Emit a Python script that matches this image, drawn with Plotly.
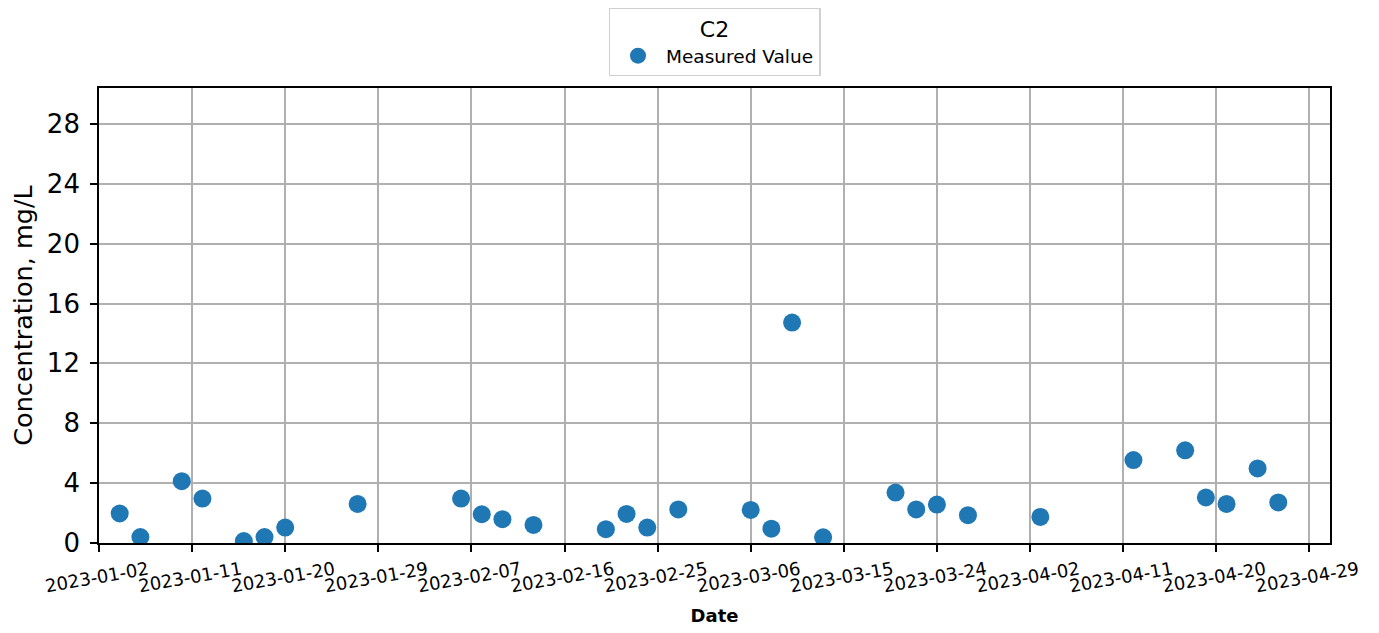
import plotly.graph_objects as go

dates = ["2023-01-04", "2023-01-06", "2023-01-10", "2023-01-12", "2023-01-16",
         "2023-01-18", "2023-01-20", "2023-01-27", "2023-02-06", "2023-02-08",
         "2023-02-10", "2023-02-13", "2023-02-20", "2023-02-22", "2023-02-24",
         "2023-02-27", "2023-03-06", "2023-03-08", "2023-03-10", "2023-03-13",
         "2023-03-20", "2023-03-22", "2023-03-24", "2023-03-27", "2023-04-03",
         "2023-04-12", "2023-04-17", "2023-04-19", "2023-04-21", "2023-04-24",
         "2023-04-26"]
values = [1.97, 0.40, 4.13, 2.97, 0.13,
          0.40, 1.03, 2.61, 2.97, 1.92,
          1.59, 1.21, 0.92, 1.94, 1.03,
          2.24, 2.21, 0.96, 14.73, 0.38,
          3.37, 2.24, 2.57, 1.86, 1.74,
          5.54, 6.19, 3.04, 2.61, 4.98,
          2.71]

x_ticks = ["2023-01-02", "2023-01-11", "2023-01-20", "2023-01-29", "2023-02-07",
           "2023-02-16", "2023-02-25", "2023-03-06", "2023-03-15", "2023-03-24",
           "2023-04-02", "2023-04-11", "2023-04-20", "2023-04-29"]
y_ticks = [0, 4, 8, 12, 16, 20, 24, 28]

FONT = "DejaVu Sans"

fig = go.Figure()
fig.add_trace(go.Scatter(
    x=dates, y=values, mode="markers", name="Measured Value",
    marker=dict(color="#1f77b4", size=18, line=dict(width=0)),
    cliponaxis=True,
))

fig.update_layout(
    width=1379, height=633,
    margin=dict(l=91, r=57, t=80, b=98),
    plot_bgcolor="white", paper_bgcolor="white",
    font=dict(family=FONT, color="black"),
    showlegend=True,
    legend=dict(
        title=dict(text="C2", side="top center", font=dict(size=22, family=FONT)),
        font=dict(size=18.5, family=FONT),
        x=0.5, xanchor="center", xref="paper",
        y=1 - 68 / 633, yanchor="bottom", yref="container",
        bordercolor="#d0d0d0", borderwidth=1.5, bgcolor="white",
        itemsizing="trace", itemwidth=46,
    ),
    xaxis=dict(
        type="date",
        range=["2023-01-02", "2023-05-01"],
        tickmode="array", tickvals=x_ticks, ticktext=x_ticks,
        tickangle=-10, tickfont=dict(size=18, family=FONT),
        ticklabelshift=49, ticklabelstandoff=1,
        showgrid=True, gridcolor="#b0b0b0", gridwidth=1.7,
        showline=True, linecolor="black", linewidth=1.7, mirror=True,
        ticks="outside", ticklen=7, tickwidth=1.7, tickcolor="black",
        zeroline=False, automargin=False,
        title=dict(text="<b>Date</b>", font=dict(size=18, family=FONT), standoff=14),
    ),
    yaxis=dict(
        range=[0, 30.4],
        tickmode="array", tickvals=y_ticks,
        tickfont=dict(size=26, family=FONT),
        ticklabelstandoff=5,
        showgrid=True, gridcolor="#b0b0b0", gridwidth=1.7,
        showline=True, linecolor="black", linewidth=1.7, mirror=True,
        ticks="outside", ticklen=7, tickwidth=1.7, tickcolor="black",
        zeroline=False, automargin=False,
        title=dict(text="Concentration, mg/L", font=dict(size=25.5, family=FONT), standoff=18),
    ),
)

fig.write_html("out.html")
